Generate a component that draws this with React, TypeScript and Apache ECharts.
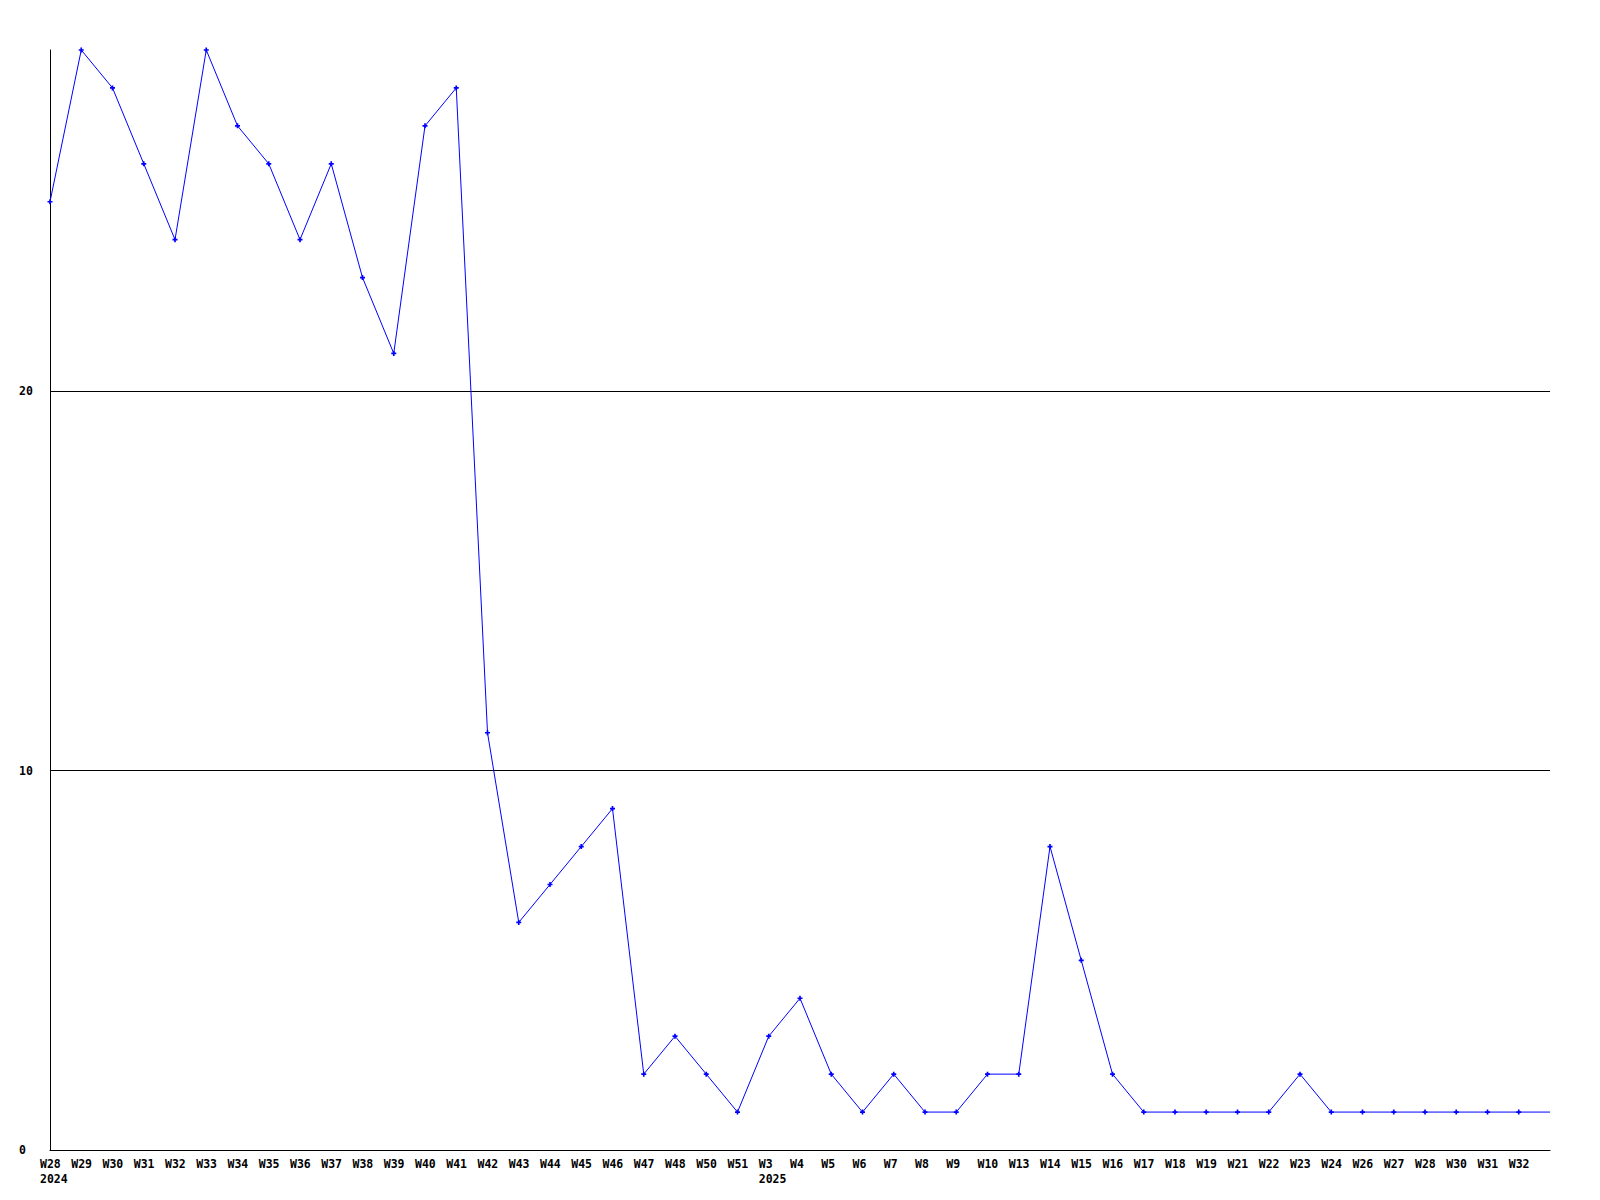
import React, { useEffect, useRef } from "react";
import * as echarts from "echarts";

const weeks = [
  "W28", "W29", "W30", "W31", "W32", "W33", "W34", "W35", "W36", "W37", "W38", "W39",
  "W40", "W41", "W42", "W43", "W44", "W45", "W46", "W47", "W48", "W50", "W51",
  "W3", "W4", "W5", "W6", "W7", "W8", "W9", "W10", "W13", "W14", "W15", "W16",
  "W17", "W18", "W19", "W21", "W22", "W23", "W24", "W26", "W27", "W28", "W30",
  "W31", "W32", "",
];

const yearLabels: Record<number, string> = { 0: "2024", 23: "2025" };

const values = [
  25, 29, 28, 26, 24, 29, 27, 26, 24, 26, 23, 21,
  27, 28, 11, 6, 7, 8, 9, 2, 3, 2, 1,
  3, 4, 2, 1, 2, 1, 1, 2, 2, 8, 5, 2,
  1, 1, 1, 1, 1, 2, 1, 1, 1, 1, 1,
  1, 1, 1,
];

const yTicks = [0, 10, 20];
const yMax = 29;

export default function App() {
  const ref = useRef<HTMLDivElement>(null);
  useEffect(() => {
    if (!ref.current) return;
    const chart = echarts.init(ref.current, undefined, { renderer: "svg" });
    const font = "DejaVu Sans Mono";
    const cats = weeks.map((w, i) => (yearLabels[i] ? `${w}\n${yearLabels[i]}` : w));
    const data = values.map((v, i) =>
      i === values.length - 1 ? { value: v, symbol: "none" } : v
    );
    chart.setOption({
      animation: false,
      backgroundColor: "#ffffff",
      grid: { left: 50, right: 50, top: 50, bottom: 50, containLabel: false },
      xAxis: {
        type: "category",
        data: cats,
        boundaryGap: false,
        axisLine: { show: true, lineStyle: { color: "#000000", width: 1 } },
        axisTick: { show: false },
        splitLine: { show: false },
        axisLabel: {
          interval: 0,
          hideOverlap: false,
          margin: 6,
          align: "center",
          formatter: (val: string) =>
            val
              .split("\n")
              .map((s) => `{a|${s}}`)
              .join("\n"),
          rich: {
            a: {
              width: 20,
              align: "left",
              fontFamily: font,
              fontWeight: "bold",
              fontSize: 11.5,
              color: "#000000",
              lineHeight: 15,
            },
          },
        },
      },
      yAxis: {
        type: "value",
        min: 0,
        max: yMax,
        interval: 10,
        axisLine: { show: true, lineStyle: { color: "#000000", width: 1 } },
        axisTick: { show: false },
        splitLine: {
          show: true,
          showMinLine: false,
          showMaxLine: false,
          lineStyle: { color: "#000000", width: 1 },
        },
        axisLabel: {
          showMaxLabel: false,
          align: "left",
          margin: 31,
          fontFamily: font,
          fontWeight: "bold",
          fontSize: 11.5,
          color: "#000000",
          formatter: (v: number) => (yTicks.includes(v) ? String(v) : ""),
        },
      },
      series: [
        {
          type: "line",
          data,
          symbol: "path://M1,0H2V1H3V2H2V3H1V2H0V1H1Z",
          symbolSize: 5,
          showSymbol: true,
          itemStyle: { color: "#0000ff" },
          lineStyle: { color: "#0000ff", width: 1 },
          emphasis: { disabled: true },
        },
      ],
    });
    return () => chart.dispose();
  }, []);
  return <div ref={ref} style={{ width: 1600, height: 1200, margin: -8 }} />;
}
